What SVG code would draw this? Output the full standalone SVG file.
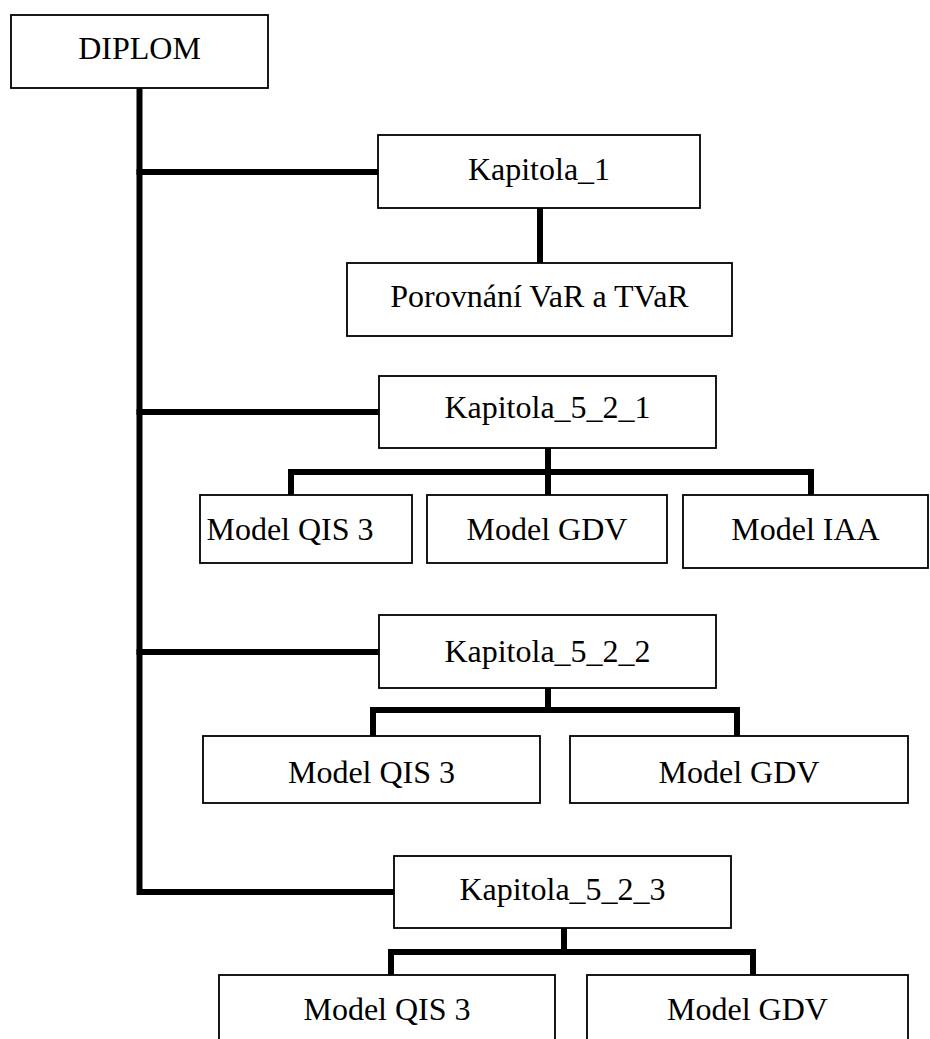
<svg xmlns="http://www.w3.org/2000/svg" width="930" height="1039" viewBox="0 0 930 1039">
<style>
.box{fill:#fff;stroke:#000;stroke-width:1.8}
.lbl{font-family:"Liberation Serif","Times New Roman",serif;font-size:32px;fill:#000;text-anchor:middle}
.conn{fill:none;stroke:#000;stroke-width:6;stroke-linecap:square;stroke-linejoin:miter}
</style>
<rect width="930" height="1039" fill="#fff"/>
<g id="connectors">
<path class="conn" d="M139.5 88 V892 H394"/>
<path class="conn" d="M139.5 172 H378"/>
<path class="conn" d="M139.5 412 H379"/>
<path class="conn" d="M139.5 652 H379"/>
<path class="conn" d="M540 208 V263"/>
<path class="conn" d="M548 448 V495"/>
<path class="conn" d="M291 495 V472 H811 V495"/>
<path class="conn" d="M548 688 V710"/>
<path class="conn" d="M373 736 V710 H737 V736"/>
<path class="conn" d="M564 928 V952"/>
<path class="conn" d="M391 975 V952 H753 V975"/>
</g>
<g id="diplom"><rect class="box" x="11" y="15" width="257" height="73"/><text class="lbl" x="139.5" y="59">DIPLOM</text></g>
<g id="kap1"><rect class="box" x="378" y="135" width="322" height="73"/><text class="lbl" x="539" y="180">Kapitola_1</text></g>
<g id="porovnani"><rect class="box" x="347" y="263" width="385" height="73"/><text class="lbl" x="539.5" y="307">Porovnání VaR a TVaR</text></g>
<g id="kap521"><rect class="box" x="379" y="376" width="337" height="72"/><text class="lbl" x="547.5" y="418">Kapitola_5_2_1</text></g>
<g id="qis1"><rect class="box" x="200" y="495" width="212" height="68"/><text class="lbl" x="290" y="540">Model QIS 3</text></g>
<g id="gdv1"><rect class="box" x="427" y="495" width="240" height="68"/><text class="lbl" x="547" y="540">Model GDV</text></g>
<g id="iaa1"><rect class="box" x="683" y="495" width="245" height="73"/><text class="lbl" x="805.5" y="540">Model IAA</text></g>
<g id="kap522"><rect class="box" x="379" y="615" width="337" height="73"/><text class="lbl" x="547.5" y="662">Kapitola_5_2_2</text></g>
<g id="qis2"><rect class="box" x="203" y="736" width="337" height="67"/><text class="lbl" x="371.5" y="783">Model QIS 3</text></g>
<g id="gdv2"><rect class="box" x="570" y="736" width="338" height="67"/><text class="lbl" x="739" y="783">Model GDV</text></g>
<g id="kap523"><rect class="box" x="394" y="856" width="337" height="72"/><text class="lbl" x="562.5" y="900">Kapitola_5_2_3</text></g>
<g id="qis3"><rect class="box" x="219" y="975" width="336" height="80"/><text class="lbl" x="387" y="1020">Model QIS 3</text></g>
<g id="gdv3"><rect class="box" x="587" y="975" width="321" height="80"/><text class="lbl" x="747.5" y="1020">Model GDV</text></g>
</svg>
